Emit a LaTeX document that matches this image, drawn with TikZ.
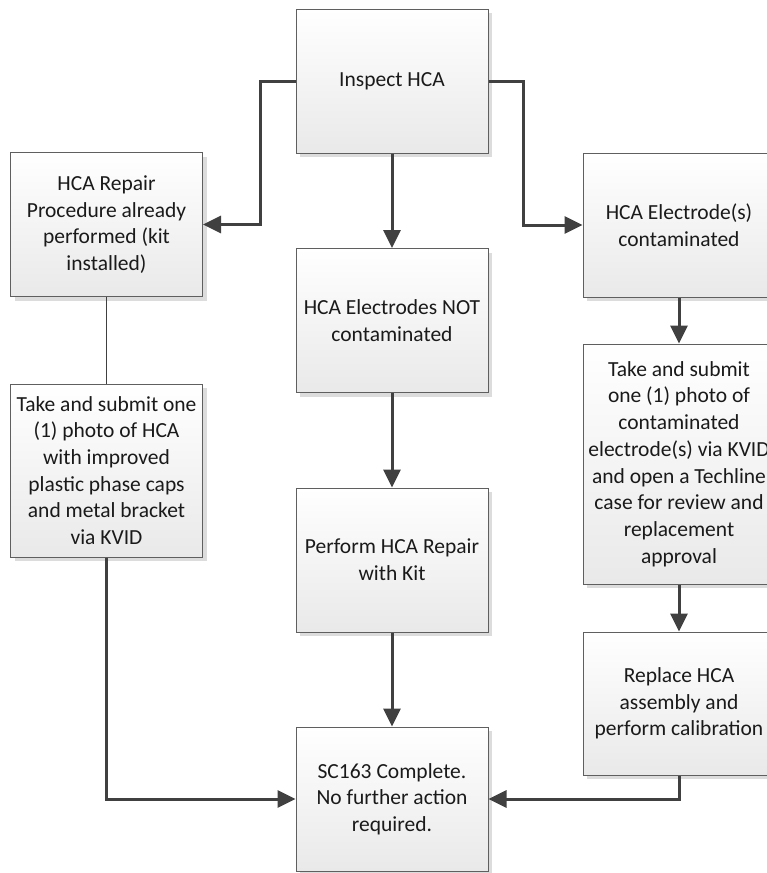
\documentclass[tikz,border=0pt]{standalone}
\usepackage{fontspec}
\setmainfont{Carlito}
\usetikzlibrary{arrows.meta,shadows}
\definecolor{linegray}{HTML}{404040}
\definecolor{boxedge}{HTML}{5F5F5F}
\definecolor{boxbottom}{HTML}{E9E9E9}
\definecolor{shadowgray}{HTML}{DCDCDC}
\definecolor{txt}{HTML}{1A1A1A}
\tikzset{
  flowbox/.style={draw=boxedge, line width=1pt, top color=white, bottom color=boxbottom,
    minimum width=192pt, inner sep=2pt, align=center, text=txt,
    font=\fontsize{21.5}{26.7}\selectfont,
    drop shadow={shadow xshift=4pt, shadow yshift=-4pt, fill=shadowgray, opacity=1}},
  arr/.style={draw=linegray, line width=3pt, -{Triangle[length=18pt,width=17pt]}},
  plainline/.style={draw=linegray, line width=1.2pt},
  elbow/.style={draw=linegray, line width=3pt}
}
\begin{document}
\begin{tikzpicture}[x=1pt,y=-1pt]
\clip (0,0) rectangle (767,873);
\fill[white] (0,0) rectangle (767,873);
\node[flowbox, minimum height=144pt] (insp) at (392,81) {Inspect HCA};
\node[flowbox, minimum height=144pt] (rep1) at (106.5,224.5) {HCA Repair\\Procedure already\\performed (kit\\installed)};
\node[flowbox, minimum height=144pt] (notc) at (392,320.5) {HCA Electrodes NOT\\contaminated};
\node[flowbox, minimum height=144pt] (cont) at (679,225) {HCA Electrode(s)\\contaminated};
\node[flowbox, minimum height=173pt] (photo) at (106.5,470.5) {Take and submit one\\(1) photo of HCA\\with improved\\plastic phase caps\\and metal bracket\\via KVID};
\node[flowbox, minimum height=144pt] (perf) at (392,560) {Perform HCA Repair\\with Kit};
\node[flowbox, minimum height=240pt] (photoc) at (679,464) {Take and submit\\one (1) photo of\\contaminated\\electrode(s) via KVID\\and open a Techline\\case for review and\\replacement\\approval};
\node[flowbox, minimum height=143pt] (repl) at (679,703.5) {Replace HCA\\assembly and\\perform calibration};
\node[flowbox, minimum height=144pt] (done) at (392,799) {SC163 Complete.\\No further action\\required.};
\coordinate (lturn) at (260,81);
\coordinate (rturn) at (523,81);
\draw[arr] (insp.west) -- (lturn) |- (rep1.east);
\draw[arr] (insp.east) -- (rturn) |- (cont.west);
\draw[arr] (insp.south) -- (notc.north);
\draw[arr] (notc.south) -- (perf.north);
\draw[arr] (perf.south) -- (done.north);
\draw[plainline] (rep1.south) -- (photo.north);
\draw[arr] (photo.south) |- (done.west);
\draw[arr] (cont.south) -- (photoc.north);
\draw[arr] (photoc.south) -- (repl.north);
\draw[arr] (repl.south) |- (done.east);
\end{tikzpicture}
\end{document}
